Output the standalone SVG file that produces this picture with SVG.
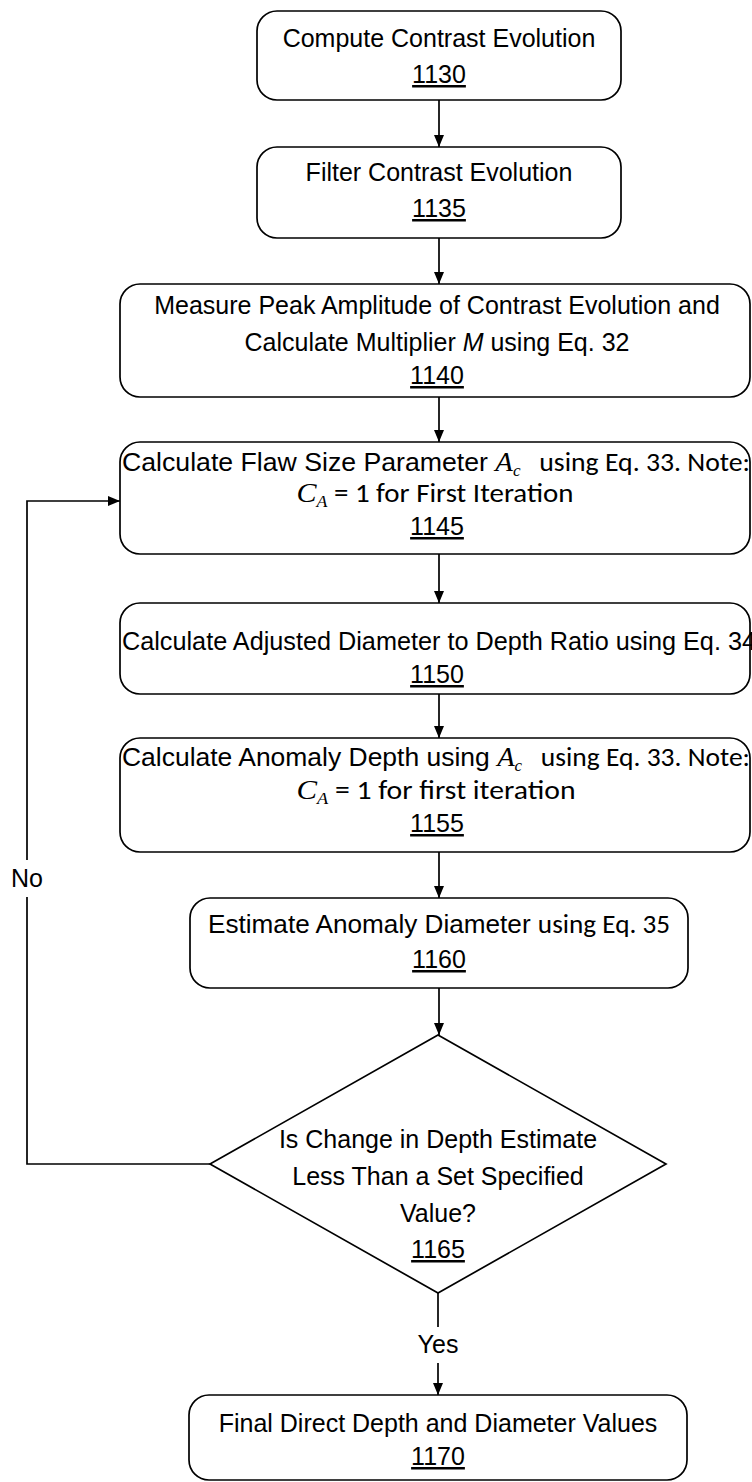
<svg xmlns="http://www.w3.org/2000/svg" width="752" height="1482" viewBox="0 0 752 1482">
<defs>
<marker id="ah" markerWidth="12" markerHeight="10" refX="12" refY="5" orient="auto" markerUnits="userSpaceOnUse"><path d="M0,0 L12,5 L0,10 z" fill="#000"/></marker>
</defs>
<style>
.box{fill:#fff;stroke:#000;stroke-width:1.7}
.t{font-family:"Liberation Sans",Arial,sans-serif;font-size:25px;fill:#000;text-anchor:middle}
.c{font-family:Carlito,Lato,"Open Sans",sans-serif;font-size:26px}
.m{font-family:"Liberation Serif","DejaVu Serif",serif;font-style:italic;font-size:27px}
.s{font-size:16px}
.u{text-decoration:underline}
.ln{stroke:#000;stroke-width:1.7;fill:none}
</style>
<rect width="752" height="1482" fill="#fff"/>
<g id="connectors">
<line class="ln" x1="439" y1="100" x2="439" y2="147" marker-end="url(#ah)"/>
<line class="ln" x1="439" y1="238" x2="439" y2="284" marker-end="url(#ah)"/>
<line class="ln" x1="439" y1="397" x2="439" y2="442" marker-end="url(#ah)"/>
<line class="ln" x1="439" y1="554" x2="439" y2="603" marker-end="url(#ah)"/>
<line class="ln" x1="439" y1="694" x2="439" y2="738" marker-end="url(#ah)"/>
<line class="ln" x1="439" y1="852" x2="439" y2="898" marker-end="url(#ah)"/>
<line class="ln" x1="439" y1="988" x2="439" y2="1035" marker-end="url(#ah)"/>
<line class="ln" x1="438" y1="1293" x2="438" y2="1327"/>
<line class="ln" x1="438" y1="1363" x2="438" y2="1395" marker-end="url(#ah)"/>
<text class="t" x="438" y="1353">Yes</text>
<polyline class="ln" points="210,1164 27,1164 27,897"/>
<polyline class="ln" points="27,860 27,501 120,501" marker-end="url(#ah)"/>
<text class="t" x="27" y="887">No</text>
</g>
<g id="n1130">
<rect class="box" x="257" y="11" width="364" height="89" rx="20"/>
<text class="t" x="439" y="47">Compute Contrast Evolution</text>
<text class="t u" x="439" y="83">1130</text>
</g>
<g id="n1135">
<rect class="box" x="257" y="147" width="364" height="91" rx="20"/>
<text class="t" x="439" y="181">Filter Contrast Evolution</text>
<text class="t u" x="439" y="217">1135</text>
</g>
<g id="n1140">
<rect class="box" x="120" y="284" width="630" height="113" rx="20"/>
<text class="t" x="437" y="314">Measure Peak Amplitude of Contrast Evolution and</text>
<text class="t" x="437" y="351">Calculate Multiplier <tspan font-style="italic">M</tspan> using Eq. 32</text>
<text class="t u" x="437" y="384">1140</text>
</g>
<g id="n1145">
<rect class="box" x="120" y="442" width="630" height="112" rx="20"/>
<text class="t" x="436" y="471" textLength="628" lengthAdjust="spacingAndGlyphs">Calculate Flaw Size Parameter <tspan class="m">A</tspan><tspan class="m s" dy="5">c</tspan><tspan class="c" dy="-5">&#160;&#160; using Eq. 33. Note:</tspan></text>
<text class="t" x="435" y="502" textLength="277" lengthAdjust="spacingAndGlyphs"><tspan class="m">C</tspan><tspan class="m s" dy="5">A</tspan><tspan class="c" dy="-5">&#160;= 1 for First Iteration</tspan></text>
<text class="t u" x="437" y="535">1145</text>
</g>
<g id="n1150">
<rect class="box" x="120" y="603" width="630" height="91" rx="20"/>
<text class="t" x="439" y="650" textLength="634" lengthAdjust="spacingAndGlyphs">Calculate Adjusted Diameter to Depth Ratio using Eq. 34</text>
<text class="t u" x="437" y="683">1150</text>
</g>
<g id="n1155">
<rect class="box" x="120" y="738" width="630" height="114" rx="20"/>
<text class="t" x="436" y="766" textLength="628" lengthAdjust="spacingAndGlyphs">Calculate Anomaly Depth using <tspan class="m">A</tspan><tspan class="m s" dy="5">c</tspan><tspan class="c" dy="-5">&#160;&#160; using Eq. 33. Note:</tspan></text>
<text class="t" x="436" y="799" textLength="279" lengthAdjust="spacingAndGlyphs"><tspan class="m">C</tspan><tspan class="m s" dy="5">A</tspan><tspan class="c" dy="-5">&#160;= 1 for first iteration</tspan></text>
<text class="t u" x="437" y="832">1155</text>
</g>
<g id="n1160">
<rect class="box" x="190" y="898" width="498" height="90" rx="20"/>
<text class="t" x="439" y="933" textLength="462" lengthAdjust="spacingAndGlyphs">Estimate Anomaly Diameter <tspan class="c">using Eq. 35</tspan></text>
<text class="t u" x="439" y="968">1160</text>
</g>
<g id="n1165">
<polygon class="box" points="438,1035 666,1164 438,1293 210,1164"/>
<text class="t" x="438" y="1148">Is Change in Depth Estimate</text>
<text class="t" x="438" y="1185">Less Than a Set Specified</text>
<text class="t" x="438" y="1222">Value?</text>
<text class="t u" x="438" y="1258">1165</text>
</g>
<g id="n1170">
<rect class="box" x="189" y="1395" width="498" height="85" rx="20"/>
<text class="t" x="438" y="1432">Final Direct Depth and Diameter Values</text>
<text class="t u" x="438" y="1465">1170</text>
</g>
</svg>
